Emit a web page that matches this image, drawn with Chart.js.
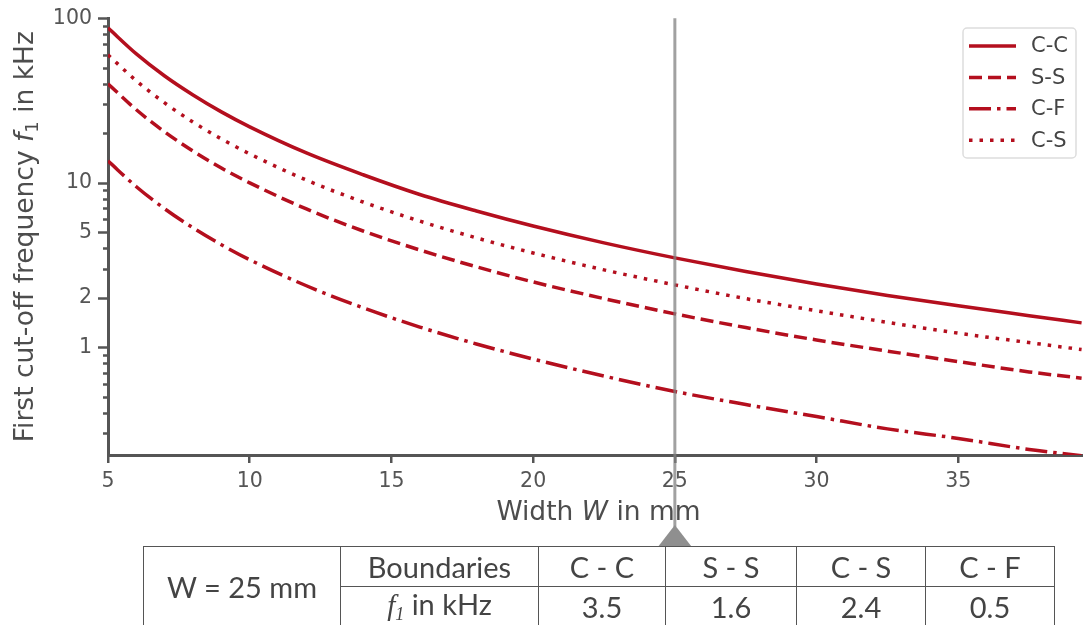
<!DOCTYPE html>
<html>
<head>
<meta charset="utf-8">
<script src="https://cdn.jsdelivr.net/npm/chart.js@4.4.1/dist/chart.umd.min.js"></script>
<style>
  body { margin: 0; background: #fff; }
  #wrap { position: relative; width: 1083px; height: 625px; overflow: hidden; }
  #grafico { position: absolute; left: 0; top: 0; }
  /* summary table under the plot */
  table.resumo {
    position: absolute; left: 143px; top: 546px;
    border-collapse: collapse; table-layout: fixed;
    font-family: Lato, "Noto Sans", sans-serif; font-size: 29px; color: #444;
  }
  table.resumo td { border: 1.5px solid #555; text-align: center; padding: 0; line-height: 1; }
  table.resumo tr.r1 td { height: 39px; }
  table.resumo tr.r2 td { height: 38px; }
  .fi { font-family: "Liberation Serif", serif; font-style: italic; }
  .fi sub { font-size: 18px; vertical-align: -5px; }
</style>
</head>
<body>
<div id="wrap">
  <canvas id="grafico" width="1083" height="625"></canvas>
  <table class="resumo">
    <colgroup>
      <col style="width:197px"><col style="width:198px"><col style="width:127px">
      <col style="width:131px"><col style="width:129px"><col style="width:129px">
    </colgroup>
    <tr class="r1">
      <td rowspan="2" id="celW"></td>
      <td>Boundaries</td>
      <td id="h0"></td><td id="h1"></td><td id="h2"></td><td id="h3"></td>
    </tr>
    <tr class="r2">
      <td><span class="fi">f<sub>1</sub></span> in kHz</td>
      <td id="v0"></td><td id="v1"></td><td id="v2"></td><td id="v3"></td>
    </tr>
  </table>
</div>
<script>
// Plate width W in mm
const larguras = [5, 6, 7, 8, 9, 10, 12, 14, 16, 18, 20, 22.5, 25, 27.5, 30, 32.5, 35, 37.5, 39.35];

// First cut-off frequency f1 in kHz for each boundary condition
const freqCC = [87.5, 60.8, 44.6, 34.2, 27.0, 21.9, 15.2, 11.2, 8.5, 6.75, 5.47, 4.32, 3.5, 2.89, 2.43, 2.07, 1.79, 1.56, 1.41];
const freqSS = [40, 27.8, 20.4, 15.6, 12.3, 10.0, 6.94, 5.10, 3.91, 3.09, 2.5, 1.98, 1.6, 1.32, 1.11, 0.95, 0.82, 0.71, 0.65];
const freqCF = [13.6, 9.47, 6.96, 5.33, 4.21, 3.41, 2.37, 1.74, 1.33, 1.05, 0.85, 0.67, 0.54, 0.45, 0.38, 0.32, 0.28, 0.24, 0.22];
const freqCS = [60, 41.7, 30.6, 23.4, 18.5, 15.0, 10.4, 7.65, 5.86, 4.63, 3.75, 2.96, 2.4, 1.98, 1.67, 1.42, 1.22, 1.07, 0.97];

// Table at the marked width
const larguraMarcada = 25;
const rotulosTabela = ['C - C', 'S - S', 'C - S', 'C - F'];
const valoresTabela = ['3.5', '1.6', '2.4', '0.5'];

// Axis ticks
const ticksX = [5, 10, 15, 20, 25, 30, 35];
const ticksY = [0.3, 0.4, 0.5, 0.6, 0.7, 0.8, 0.9, 1, 2, 3, 4, 5, 6, 7, 8, 9, 10, 20, 30, 40, 50, 60, 70, 80, 90, 100];
const ticksYRotulados = [1, 2, 5, 10, 100];

const vermelho = '#b40f1e';
const corEixo = '#555';
const fonte = '"DejaVu Sans", sans-serif';

// fill the table
document.getElementById('celW').textContent = 'W = ' + larguraMarcada + ' mm';
rotulosTabela.forEach((r, i) => {
  document.getElementById('h' + i).textContent = r;
  document.getElementById('v' + i).textContent = valoresTabela[i];
});

function pares(ys) {
  return larguras.map((w, i) => ({ x: w, y: ys[i] }));
}

function serie(label, ys, dash) {
  return {
    label: label,
    data: pares(ys),
    borderColor: vermelho,
    borderWidth: 3.5,
    borderDash: dash,
    borderCapStyle: 'butt',
    pointRadius: 0,
    cubicInterpolationMode: 'monotone',
    fill: false
  };
}

// writes text made of several runs (normal / italic / subscript)
function textoMisto(ctx, partes, cx, baseY) {
  let total = 0;
  partes.forEach(p => { ctx.font = p.font; p.w = ctx.measureText(p.t).width; total += p.w; });
  let x = cx - total / 2;
  partes.forEach(p => {
    ctx.font = p.font;
    ctx.fillText(p.t, x, baseY + (p.dy || 0));
    x += p.w;
  });
}

// tick marks on the log axis, axis titles, legend and the W = 25 marker
const extras = {
  id: 'extras',
  afterDraw(chart) {
    const ctx = chart.ctx;
    const area = chart.chartArea;
    const sx = chart.scales.x, sy = chart.scales.y;
    ctx.save();

    // y tick marks: long for labelled ones, short for the rest
    ctx.strokeStyle = corEixo;
    ctx.lineWidth = 2.5;
    ticksY.forEach(v => {
      const py = Math.round(sy.getPixelForValue(v)) + 0.5;
      const len = ticksYRotulados.includes(v) ? 10 : 5;
      ctx.beginPath();
      ctx.moveTo(area.left - len, py);
      ctx.lineTo(area.left, py);
      ctx.stroke();
    });

    // axis titles
    ctx.fillStyle = '#4d4d4d';
    ctx.textAlign = 'left';
    ctx.textBaseline = 'alphabetic';
    const f = '26.5px ' + fonte;
    const fi = 'italic 26.5px ' + fonte;
    textoMisto(ctx, [
      { t: 'Width ', font: f }, { t: 'W', font: fi }, { t: ' in mm', font: f }
    ], (area.left + area.right) / 2 + 3, 520);

    ctx.save();
    ctx.translate(33, (area.top + area.bottom) / 2);
    ctx.rotate(-Math.PI / 2);
    textoMisto(ctx, [
      { t: 'First cut-off frequency ', font: f }, { t: 'f', font: fi },
      { t: '1', font: '18px ' + fonte, dy: 5 }, { t: ' in kHz', font: f }
    ], 0, 0);
    ctx.restore();

    // legend box
    const lx = 963, ly = 28, lw = 113, lh = 130;
    ctx.fillStyle = 'rgba(255,255,255,0.85)';
    ctx.strokeStyle = '#ddd';
    ctx.lineWidth = 1.5;
    ctx.beginPath();
    ctx.roundRect(lx, ly, lw, lh, 4);
    ctx.fill();
    ctx.stroke();
    chart.data.datasets.forEach((ds, i) => {
      const yy = 46 + i * 31.4;
      ctx.strokeStyle = ds.borderColor;
      ctx.lineWidth = ds.borderWidth;
      ctx.lineCap = 'butt';
      ctx.setLineDash(ds.borderDash || []);
      ctx.beginPath();
      ctx.moveTo(969, yy);
      ctx.lineTo(1016, yy);
      ctx.stroke();
      ctx.setLineDash([]);
      ctx.fillStyle = '#444';
      ctx.font = '21px ' + fonte;
      ctx.textBaseline = 'middle';
      ctx.fillText(ds.label, 1031, yy + 1);
    });

    // vertical marker at the tabulated width, with the arrow onto the table
    const px = sx.getPixelForValue(larguraMarcada);
    ctx.strokeStyle = 'rgba(130,130,130,0.75)';
    ctx.lineWidth = 3;
    ctx.beginPath();
    ctx.moveTo(px, area.top);
    ctx.lineTo(px, 527);
    ctx.stroke();
    ctx.fillStyle = '#8f8f8f';
    ctx.beginPath();
    ctx.moveTo(px, 525);
    ctx.lineTo(px + 17, 547);
    ctx.lineTo(px - 17, 547);
    ctx.closePath();
    ctx.fill();

    ctx.restore();
  }
};

const ctx = document.getElementById('grafico').getContext('2d');
const meuGrafico = new Chart(ctx, {
  type: 'line',
  data: {
    datasets: [
      serie('C-C', freqCC, []),
      serie('S-S', freqSS, [13, 6]),
      serie('C-F', freqCF, [22, 6, 3.5, 6]),
      serie('C-S', freqCS, [3.5, 7])
    ]
  },
  options: {
    responsive: false,
    animation: false,
    layout: { padding: { top: 18, right: 0, left: 0, bottom: 0 } },
    plugins: { legend: { display: false }, tooltip: { enabled: false } },
    scales: {
      x: {
        type: 'linear',
        min: 5,
        max: 39.4,
        afterBuildTicks: s => { s.ticks = ticksX.map(v => ({ value: v })); },
        afterFit: s => { s.height = 170; },
        grid: { display: true, drawOnChartArea: false, drawTicks: true, tickLength: 8, color: corEixo, lineWidth: 2.5 },
        border: { display: true, color: corEixo, width: 3 },
        ticks: { color: corEixo, font: { family: fonte, size: 20.5 }, padding: 6, maxRotation: 0, autoSkip: false }
      },
      y: {
        type: 'logarithmic',
        min: 0.222,
        max: 100,
        afterBuildTicks: s => { s.ticks = ticksY.map(v => ({ value: v })); },
        afterFit: s => { s.width = 108; },
        grid: { display: false, drawTicks: true, tickLength: 10 },
        border: { display: true, color: corEixo, width: 3 },
        ticks: {
          color: corEixo,
          font: { family: fonte, size: 20.5 },
          padding: 6,
          autoSkip: false,
          callback: v => ticksYRotulados.includes(v) ? String(v) : ''
        }
      }
    }
  },
  plugins: [extras]
});
</script>
</body>
</html>
